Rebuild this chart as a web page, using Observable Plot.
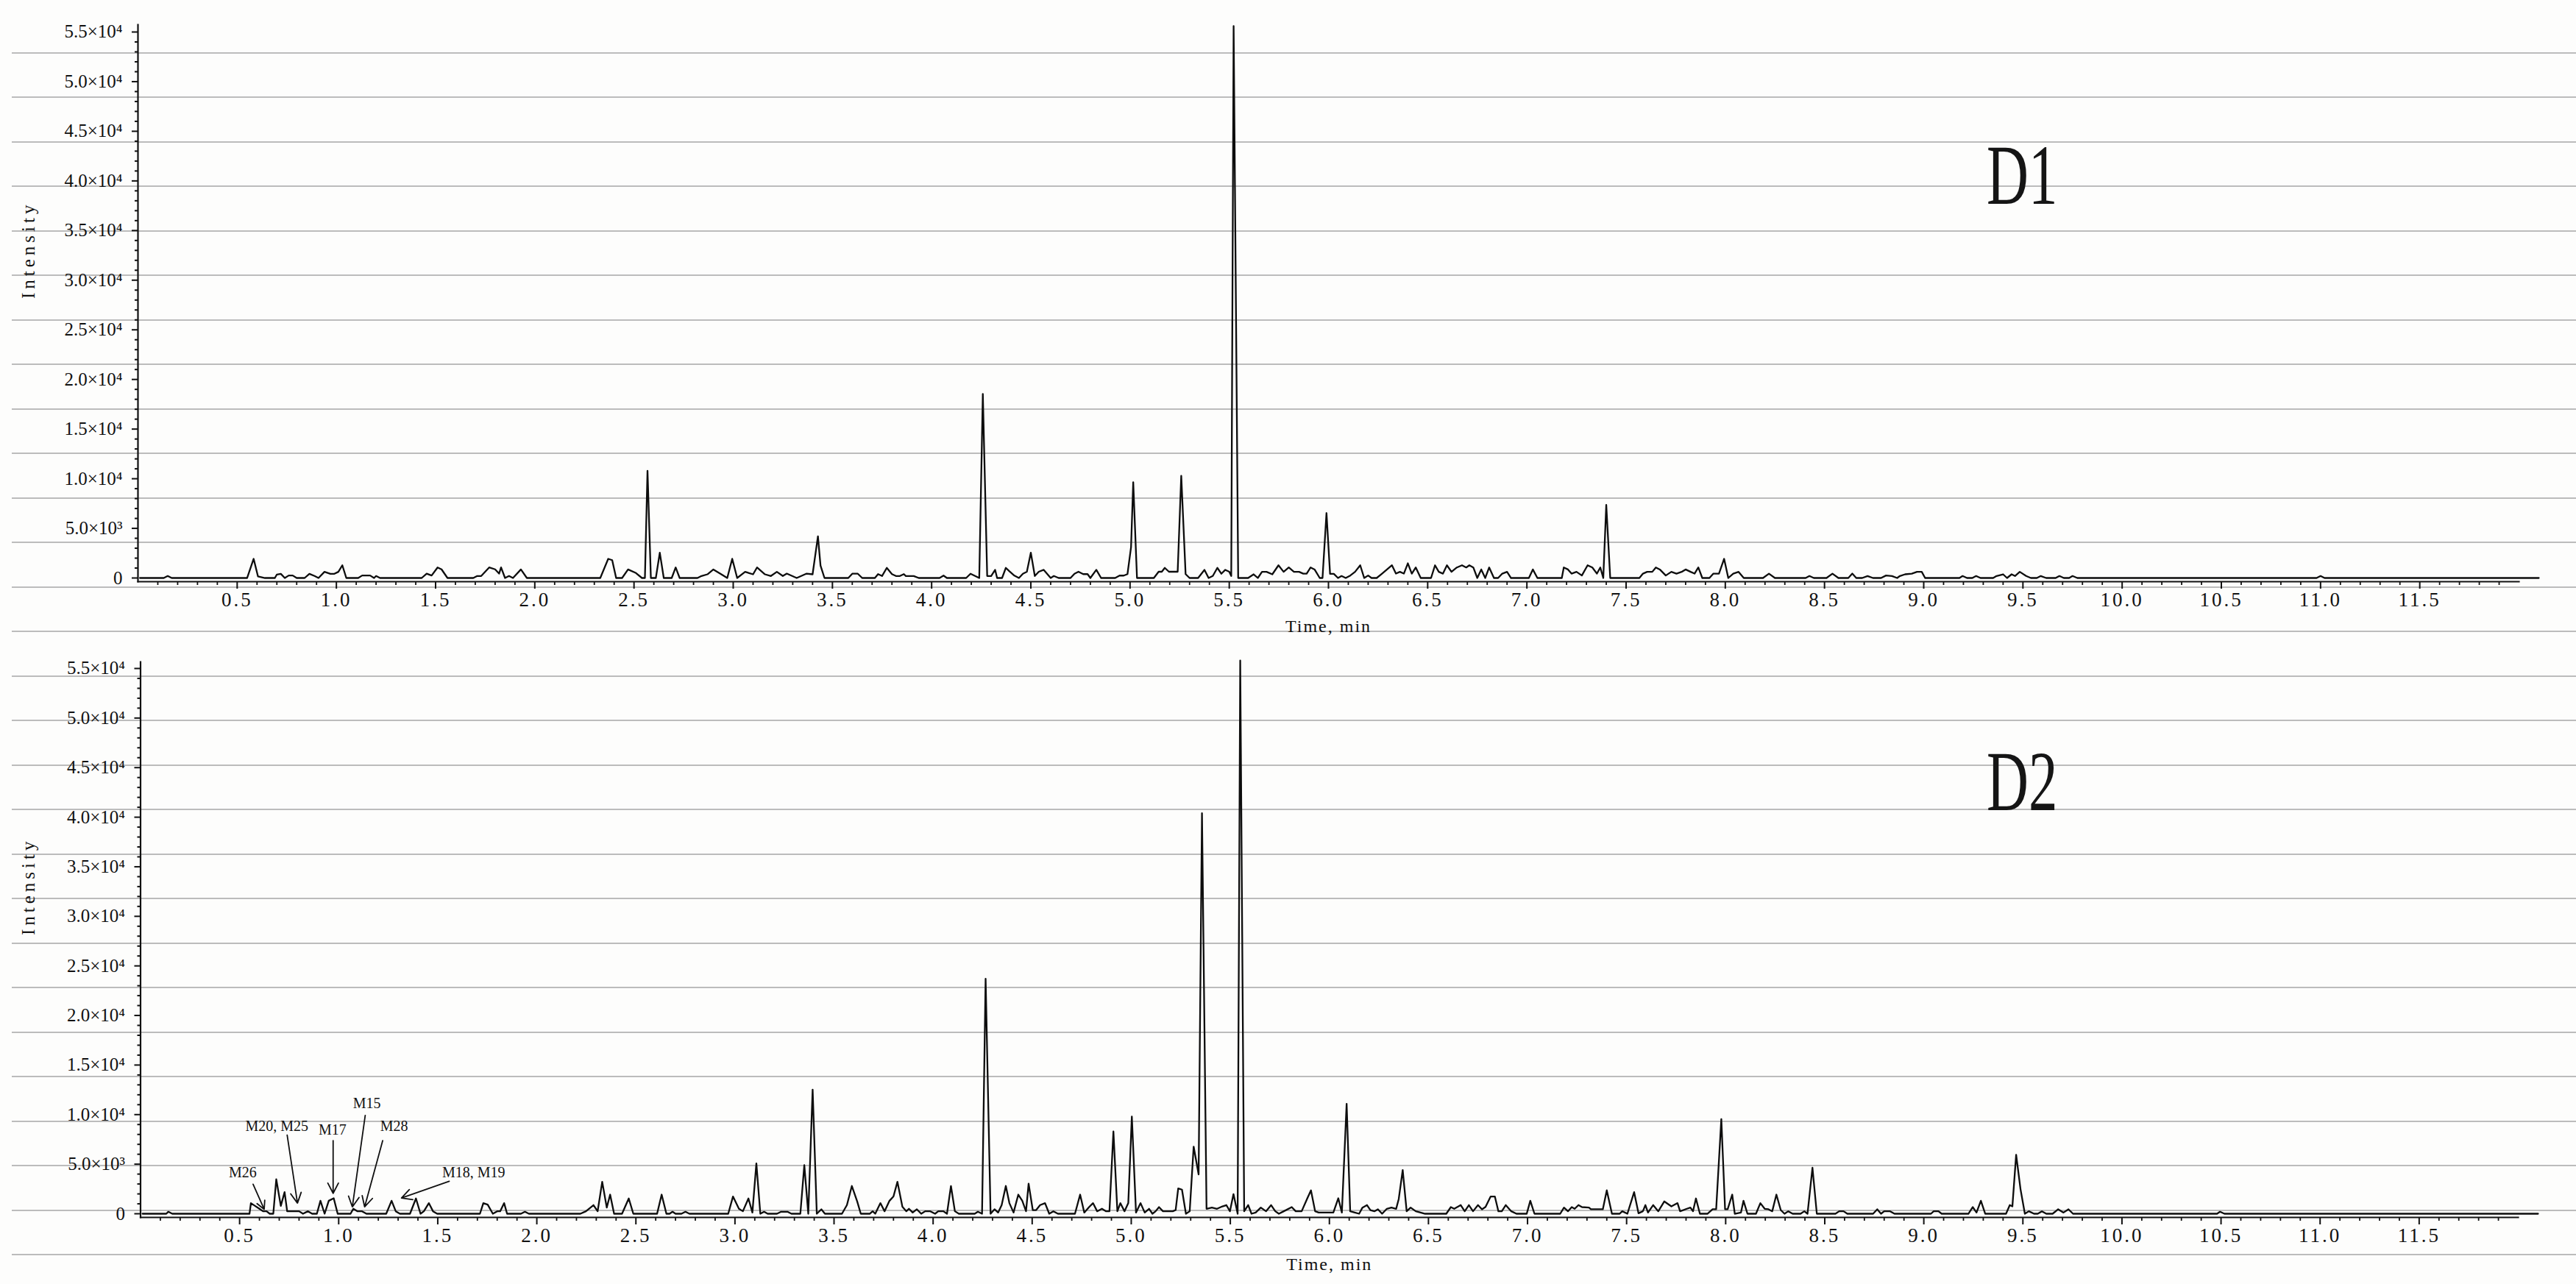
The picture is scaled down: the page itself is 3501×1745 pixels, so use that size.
<!DOCTYPE html>
<html>
<head>
<meta charset="utf-8">
<script src="https://cdn.jsdelivr.net/npm/d3@7"></script>
<script src="https://cdn.jsdelivr.net/npm/@observablehq/plot@0.6"></script>
<style>
  html, body { margin: 0; padding: 0; background: #fdfdfc; width: 3501px; height: 1745px; overflow: hidden; }
  #bg { position: absolute; left: 16px; top: 71px; width: 3485px; height: 1674px;
        background: repeating-linear-gradient(to bottom, #bcbcbc 0px, #bcbcbc 1.6px, transparent 1.6px, transparent 60.5px); }
  .panel { position: absolute; left: 0; }
  .dlabel { position: absolute; font-family: "Liberation Serif", serif; font-size: 116px; line-height: 1;
            color: #151515; transform: scaleX(0.68); transform-origin: left top; }
</style>
</head>
<body>
<div id="bg"></div>
<div id="top" class="panel" style="top:0px"></div>
<div id="bottom" class="panel" style="top:870px"></div>
<div class="dlabel" style="left:2700px; top:180px">D1</div>
<div class="dlabel" style="left:2700px; top:1004px">D2</div>
<script>
// ---------------- data ----------------
const xMajorTicks = [0.5,1.0,1.5,2.0,2.5,3.0,3.5,4.0,4.5,5.0,5.5,6.0,6.5,7.0,7.5,8.0,8.5,9.0,9.5,10.0,10.5,11.0,11.5];
const xTickLabels = ["0.5","1.0","1.5","2.0","2.5","3.0","3.5","4.0","4.5","5.0","5.5","6.0","6.5","7.0","7.5","8.0","8.5","9.0","9.5","10.0","10.5","11.0","11.5"];
const yMajorTicks = [0,5000,10000,15000,20000,25000,30000,35000,40000,45000,50000,55000];
const yTickLabels = ["0","5.0×10³","1.0×10⁴","1.5×10⁴","2.0×10⁴","2.5×10⁴","3.0×10⁴","3.5×10⁴","4.0×10⁴","4.5×10⁴","5.0×10⁴","5.5×10⁴"];

// D1 trace: [time (min), intensity]
const d1 = [
[0.01,0],[0.13,0],[0.15,200],[0.17,0],[0.55,0],[0.583,1930],[0.605,150],[0.64,0],[0.69,0],[0.70,350],[0.72,420],[0.74,0],[0.76,250],[0.78,250],[0.80,0],[0.84,0],[0.864,420],[0.89,200],[0.91,0],[0.94,620],[0.97,420],[0.99,420],[1.01,620],[1.03,1280],[1.05,0],[1.11,0],[1.13,250],[1.17,250],[1.19,0],[1.20,200],[1.22,0],[1.43,0],[1.455,440],[1.48,250],[1.51,1060],[1.53,870],[1.56,0],[1.69,0],[1.71,200],[1.73,200],[1.77,1060],[1.80,870],[1.82,440],[1.83,1060],[1.85,0],[1.87,200],[1.89,0],[1.93,860],[1.96,0],[2.33,0],[2.37,1930],[2.39,1800],[2.41,0],[2.44,0],[2.47,860],[2.51,500],[2.54,0],[2.555,0],[2.568,10800],[2.585,0],[2.61,0],[2.63,2540],[2.65,0],[2.69,0],[2.71,1060],[2.73,0],[2.82,0],[2.84,200],[2.87,370],[2.90,860],[2.94,370],[2.97,0],[2.995,1930],[3.02,0],[3.06,620],[3.10,370],[3.12,1060],[3.16,370],[3.19,200],[3.22,620],[3.25,200],[3.27,440],[3.32,0],[3.37,440],[3.40,370],[3.427,4200],[3.44,1250],[3.46,0],
[3.58,0],[3.60,430],[3.628,430],[3.65,0],[3.714,0],[3.73,390],[3.75,200],[3.774,1020],[3.80,390],[3.82,200],[3.84,200],[3.86,390],[3.87,200],[3.91,200],[3.935,0],[4.04,0],[4.06,240],[4.077,0],[4.174,0],[4.196,430],[4.24,0],[4.258,18540],[4.28,200],[4.30,200],[4.32,820],[4.33,0],[4.355,0],[4.374,1020],[4.39,710],[4.417,240],[4.44,0],[4.46,430],[4.48,630],[4.50,2550],[4.52,200],[4.54,630],[4.565,820],[4.60,0],[4.616,200],[4.64,0],[4.70,0],[4.72,430],[4.74,630],[4.764,390],[4.786,390],[4.80,0],[4.83,820],[4.854,0],[4.925,0],[4.947,240],[4.968,240],[4.987,390],[5.005,3100],[5.016,9650],[5.035,0],[5.12,0],[5.144,630],[5.16,630],[5.175,1020],[5.196,630],[5.24,630],[5.258,10300],[5.28,390],[5.30,0],[5.343,0],[5.375,820],[5.396,0],[5.417,200],[5.44,1020],[5.46,430],[5.48,820],[5.50,630],[5.51,200],[5.522,55600],[5.545,0],[5.595,0],
[5.623,370],[5.644,0],[5.665,620],[5.688,620],[5.717,370],[5.748,1280],[5.774,620],[5.80,1060],[5.826,620],[5.852,620],[5.873,440],[5.89,440],[5.91,1060],[5.93,860],[5.956,0],[5.97,0],[5.99,6540],[6.008,420],[6.027,420],[6.048,0],[6.066,200],[6.087,0],[6.11,250],[6.134,620],[6.16,1280],[6.18,0],[6.20,250],[6.217,0],[6.243,0],[6.27,440],[6.295,860],[6.32,1280],[6.34,440],[6.36,620],[6.38,440],[6.40,1480],[6.42,440],[6.44,1060],[6.465,0],[6.517,0],[6.537,1280],[6.556,620],[6.577,440],[6.597,1280],[6.62,620],[6.647,1060],[6.673,1280],[6.694,1060],[6.71,1280],[6.73,1060],[6.75,0],[6.77,860],[6.79,0],[6.81,1060],[6.834,0],[6.855,0],[6.876,440],[6.90,620],[6.92,0],[7.01,0],[7.03,860],[7.053,0],[7.176,0],[7.186,1060],[7.207,860],[7.225,440],[7.25,620],[7.277,250],[7.306,1280],[7.33,1060],[7.353,440],[7.37,1060],[7.385,0],[7.40,7360],[7.42,0],[7.567,0],[7.585,440],[7.606,620],[7.632,620],[7.65,1060],[7.67,860],[7.70,250],[7.728,620],[7.754,440],[7.78,620],[7.80,860],[7.825,620],[7.845,440],[7.864,1060],[7.884,0],[7.92,0],[7.94,440],[7.968,440],[7.994,1930],[8.015,0],[8.04,440],[8.067,620],[8.093,0],
[8.12,0],[8.19,0],[8.22,440],[8.25,0],[8.405,0],[8.424,200],[8.446,0],[8.51,0],[8.54,440],[8.57,0],[8.62,0],[8.64,440],[8.66,0],[8.69,0],[8.717,200],[8.744,0],[8.785,0],[8.81,250],[8.84,200],[8.866,0],[8.88,200],[8.906,370],[8.94,440],[8.966,620],[8.99,620],[9.007,0],[9.18,0],[9.196,200],[9.218,0],[9.245,0],[9.264,200],[9.286,0],[9.35,0],[9.367,200],[9.40,370],[9.42,0],[9.443,370],[9.46,200],[9.484,620],[9.516,200],[9.54,0],[9.57,0],[9.59,200],[9.617,0],[9.665,0],[9.684,200],[9.706,0],[9.733,0],[9.75,200],[9.774,0],[10.98,0],[11.0,200],[11.02,0],[12.1,0]
];

// D2 trace: [time (min), intensity]
const d2 = [
[0.01,0],[0.13,0],[0.14,200],[0.16,0],[0.55,0],[0.557,1070],[0.578,790],[0.60,500],[0.618,250],[0.636,250],[0.652,0],[0.67,0],[0.685,3470],[0.708,790],[0.727,2180],[0.74,250],[0.80,250],[0.82,0],[0.845,250],[0.866,0],[0.89,0],[0.908,1310],[0.929,0],[0.95,1310],[0.975,1560],[0.995,0],[1.06,0],[1.074,500],[1.095,250],[1.118,250],[1.14,0],[1.24,0],[1.267,1310],[1.288,250],[1.309,0],[1.36,0],[1.39,1540],[1.413,0],[1.43,250],[1.455,1070],[1.476,250],[1.497,0],[1.713,0],[1.73,1070],[1.752,920],[1.778,0],[1.80,250],[1.815,250],[1.835,1070],[1.85,0],[1.92,0],[1.94,200],[1.96,0],[2.22,0],[2.248,250],[2.286,870],[2.307,250],[2.33,3220],[2.353,620],[2.37,1930],[2.39,0],[2.43,0],[2.464,1540],[2.487,0],[2.607,0],[2.63,1930],[2.654,0],[2.67,0],[2.685,200],[2.70,0],[2.73,0],[2.75,200],[2.77,0],[2.966,0],[2.99,1740],[3.02,500],[3.04,250],[3.068,1540],[3.088,120],[3.108,5080],[3.128,0],[3.147,200],[3.165,0],[3.212,0],[3.233,200],[3.265,200],[3.285,0],[3.33,0],[3.35,4910],[3.37,0],[3.392,12520],[3.413,0],[3.436,450],[3.454,0],[3.54,0],[3.565,870],[3.59,2800],[3.617,1240],[3.635,0],[3.68,0],[3.695,250],[3.708,0],[3.734,1070],[3.755,250],[3.78,1310],[3.80,1740],[3.82,3220],[3.845,700],[3.865,250],[3.878,500],[3.897,120],[3.918,450],[3.94,0],[3.96,250],[3.986,250],[4.01,0],
[4.026,250],[4.052,250],[4.07,0],[4.09,2800],[4.11,250],[4.13,0],[4.21,0],[4.226,200],[4.247,0],[4.265,23700],[4.29,0],[4.31,450],[4.328,120],[4.346,870],[4.367,2800],[4.385,1070],[4.406,120],[4.43,1930],[4.45,1310],[4.469,250],[4.482,3030],[4.503,370],[4.52,370],[4.54,870],[4.565,1070],[4.586,0],[4.607,250],[4.63,0],[4.716,0],[4.742,1930],[4.763,120],[4.787,670],[4.807,1070],[4.828,250],[4.852,500],[4.873,250],[4.89,250],[4.91,8300],[4.93,250],[4.945,1070],[4.966,250],[4.985,1070],[5.003,9800],[5.024,120],[5.047,1070],[5.068,120],[5.09,500],[5.107,0],[5.123,250],[5.14,670],[5.16,250],[5.21,250],[5.224,370],[5.237,2550],[5.256,2430],[5.276,0],[5.295,250],[5.315,6770],[5.34,3970],[5.357,40400],[5.38,500],[5.407,620],[5.433,500],[5.46,740],[5.48,870],[5.498,250],[5.516,1980],[5.537,0],[5.55,55800],[5.57,250],[5.59,870],[5.607,0],[5.628,120],[5.654,620],[5.68,250],[5.706,870],[5.727,250],[5.745,0],[5.77,250],[5.81,670],[5.83,250],[5.86,250],[5.89,1610],[5.907,2360],[5.928,250],[5.946,120],[6.02,120],[6.045,1560],[6.063,120],[6.087,11090],[6.105,250],[6.128,120],[6.15,0],[6.167,620],[6.19,870],[6.207,370],[6.227,250],[6.245,450],[6.266,0],[6.29,500],[6.313,620],[6.337,500],[6.35,1490],[6.37,4410],[6.39,250],[6.41,620],[6.436,250],[6.46,120],[6.483,0],[6.59,0],[6.613,670],[6.63,500],[6.663,870],[6.683,250],[6.704,870],[6.725,250],[6.75,870],[6.77,450],[6.788,690],[6.814,1740],[6.835,1740],[6.853,250],[6.87,250],[6.89,870],[6.918,250],[6.944,0],[6.996,0],[7.014,1310],[7.035,0],[7.165,0],[7.184,620],[7.204,250],[7.223,670],[7.238,500],[7.257,870],[7.275,670],[7.31,620],[7.32,450],[7.38,450],[7.40,2360],[7.426,0],[7.465,0],[7.478,250],[7.504,0],[7.538,2180],[7.56,50],[7.582,250],[7.595,870],[7.608,120],[7.634,870],[7.66,250],[7.69,1240],[7.726,740],[7.757,1070],[7.77,250],[7.804,500],[7.822,620],[7.835,250],[7.85,1540],[7.87,0],[7.908,0],[7.934,450],[7.952,450],[7.978,9550],[7.997,450],[8.01,450],[8.033,1930],[8.046,0],[8.077,120],
[8.09,1310],[8.11,0],[8.153,0],[8.175,1070],[8.197,500],[8.216,450],[8.235,250],[8.256,1930],[8.278,370],[8.297,0],[8.316,250],[8.338,0],[8.378,0],[8.397,250],[8.413,0],[8.438,4640],[8.46,0],[8.554,0],[8.573,250],[8.595,250],[8.614,0],[8.744,0],[8.765,450],[8.784,0],[8.80,250],[8.83,250],[8.852,0],[9.036,0],[9.05,250],[9.074,250],[9.09,0],[9.225,0],[9.247,670],[9.266,120],[9.288,1310],[9.31,0],[9.415,0],[9.434,870],[9.447,740],[9.466,5950],[9.488,2480],[9.51,0],[9.53,250],[9.556,0],[9.575,0],[9.596,250],[9.618,0],[9.65,0],[9.678,450],[9.705,120],[9.73,450],[9.753,0],[10.48,0],[10.495,200],[10.517,0],[12.1,0]
];

// D2 annotations
const annLabels   = ["M26", "M20, M25", "M17", "M15", "M28", "M18, M19"];
const annTextTime = [0.516, 0.688, 0.969, 1.142, 1.280, 1.681];
const annTextInt  = [4150, 8850, 8460, 11120, 8810, 4180];
const arrowFromT  = [0.568, 0.740, 0.972, 1.134, 1.222, 1.558];
const arrowFromI  = [2980, 7940, 7370, 9920, 7370, 3280];
const arrowToT    = [0.624, 0.792, 0.972, 1.069, 1.131, 1.317];
const arrowToI    = [450, 1070, 2060, 690, 690, 1590];

// ---------------- helpers ----------------
const SERIF = "Liberation Serif, Times New Roman, serif";
const xMinorTicks = d3.range(1, 120).map(i => i / 10).filter(v => Math.abs(v * 2 - Math.round(v * 2)) > 1e-6);
const yMinorTicks = d3.range(1, 56).map(i => i * 1000).filter(v => v % 5000 !== 0);
const yLabelOf = new Map(yMajorTicks.map((v, i) => [v, yTickLabels[i]]));
const xLabelOf = new Map(xMajorTicks.map((v, i) => [v.toFixed(1), xTickLabels[i]]));

function panel(data, opt) {
  const marks = [
    Plot.frame({anchor: "bottom", stroke: "#111", strokeWidth: 2.2}),
    Plot.frame({anchor: "left", stroke: "#111", strokeWidth: 2.2}),
    Plot.axisY({ticks: yMajorTicks, tickFormat: d => yLabelOf.get(d), tickSize: 8, tickPadding: 13,
                label: null, stroke: "#111", strokeWidth: 2, fontSize: 25, fontFamily: SERIF}),
    Plot.axisY({ticks: yMinorTicks, tickSize: 4, fill: "none", label: null, stroke: "#111", strokeWidth: 2}),
    Plot.axisX({ticks: xMajorTicks, tickFormat: d => xLabelOf.get(d.toFixed(1)), tickSize: 10, tickPadding: 4,
                label: null, stroke: "#111", strokeWidth: 2, fontSize: 27, fontFamily: SERIF}),
    Plot.axisX({ticks: xMinorTicks, tickSize: 5, fill: "none", label: null, stroke: "#111", strokeWidth: 1.8}),
    Plot.line(data, {x: d => d[0], y: d => d[1], stroke: "#0d0d0d", strokeWidth: 2.3}),
    Plot.text(["Time, min"], {frameAnchor: "bottom", dy: opt.timeDy, text: d => d, fontSize: 24, fontFamily: SERIF, fill: "#111"}),
    Plot.text(["Intensity"], {frameAnchor: "left", dx: opt.intDx, dy: -6, rotate: -90, text: d => d, fontSize: 25, fontFamily: SERIF, fill: "#111"})
  ];
  if (opt.extra) marks.push(...opt.extra);
  return Plot.plot({
    width: 3501, height: opt.height,
    marginLeft: opt.ml, marginRight: opt.mr, marginTop: opt.mt, marginBottom: opt.mb,
    style: {background: "transparent", color: "#111", fontFamily: SERIF, overflow: "visible"},
    x: {domain: [0, 12]},
    y: {domain: opt.ydom},
    marks
  });
}

const topChart = panel(d1, {height: 870, ml: 187, mr: 78, mt: 33, mb: 80, ydom: [-370, 55741], timeDy: 68, intDx: -149});

const ann = annLabels.map((label, i) => ({
  label, tx: annTextTime[i], ty: annTextInt[i],
  x1: arrowFromT[i], y1: arrowFromI[i], x2: arrowToT[i], y2: arrowToI[i]
}));
const bottomChart = panel(d2, {height: 875, ml: 190.5, mr: 79, mt: 29, mb: 91, ydom: [-370, 55667], timeDy: 71, intDx: -152.5,
  extra: [
    Plot.arrow(ann, {x1: "x1", y1: "y1", x2: "x2", y2: "y2", stroke: "#111", strokeWidth: 1.8, headLength: 13, headAngle: 55}),
    Plot.text(ann, {x: "tx", y: "ty", text: "label", fontSize: 20, fontFamily: SERIF, fill: "#111"})
  ]});

document.getElementById("top").appendChild(topChart);
document.getElementById("bottom").appendChild(bottomChart);

for (const svg of [topChart, bottomChart]) {
  d3.select(svg).selectAll('g[aria-label="x-axis tick label"] text').style("letter-spacing", "3px");
  d3.select(svg).selectAll('g[aria-label="text"] text').filter(function() { return this.textContent === "Intensity" || this.textContent === "Time, min"; })
    .style("letter-spacing", function() { return this.textContent === "Intensity" ? "5px" : "2px"; });
}
</script>
</body>
</html>
